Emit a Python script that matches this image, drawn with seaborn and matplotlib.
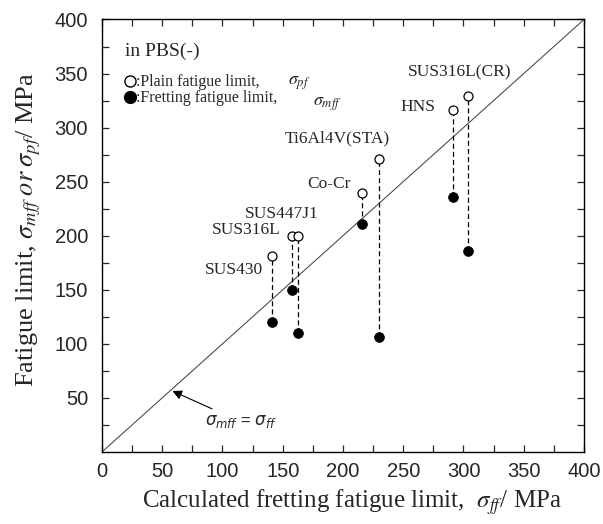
import matplotlib
matplotlib.use("Agg")
import matplotlib.pyplot as plt
from matplotlib.lines import Line2D
from matplotlib.ticker import MultipleLocator
import seaborn as sns
import pandas as pd

materials = ["SUS430", "SUS316L", "SUS447J1", "Co-Cr", "Ti6Al4V(STA)", "HNS", "SUS316L(CR)"]
calc_fretting = [141, 157.5, 162.5, 215.5, 229.5, 291, 303.5]
plain_limit = [181, 200, 200, 239.5, 271, 316, 329]
fretting_limit = [120, 150, 110, 211, 106.5, 236, 186]

# label anchor points (data units) and alignment
label_x = [134, 148, 119, 206, 239, 277, 254]
label_y = [168, 205, 220, 248, 290, 319, 351]
label_ha = ["right", "right", "left", "right", "right", "right", "left"]

axis_lim = [0, 400]

sns.set_style("ticks")
plt.rcParams["font.family"] = ["Liberation Serif", "DejaVu Serif"]
plt.rcParams["mathtext.fontset"] = "stix"

df = pd.DataFrame({"material": materials, "calc": calc_fretting,
                   "plain": plain_limit, "fret": fretting_limit})

fig = plt.figure(figsize=(6.03, 5.24), dpi=100)
ax = fig.add_axes([0.169, 0.1374, 0.7995, 0.8254])

ax.plot(axis_lim, axis_lim, color="#444444", lw=0.75, zorder=1)
ax.vlines(df["calc"], df["fret"], df["plain"], colors="black",
          linestyles=(0, (4, 2.5)), lw=0.9, zorder=2)
sns.scatterplot(data=df, x="calc", y="plain", ax=ax, marker="o", s=42,
                facecolor="white", edgecolor="black", linewidth=0.9, zorder=3)
sns.scatterplot(data=df, x="calc", y="fret", ax=ax, marker="o", s=50,
                color="black", edgecolor="black", linewidth=0.5, zorder=3)

for m, lx, ly, ha in zip(materials, label_x, label_y, label_ha):
    ax.text(lx, ly, m, ha=ha, va="center", fontsize=12.5)

ann = ax.annotate(r"$\sigma_{mff}$ = $\sigma_{ff}$", xy=(58.5, 56.4),
                  xytext=(85.5, 28), fontsize=12, va="center", ha="left",
                  fontfamily="Liberation Sans",
                  arrowprops=dict(arrowstyle="-|>", color="black", lw=0.8,
                                  mutation_scale=14, shrinkA=2, shrinkB=0))
ann.set_math_fontfamily("dejavusans")

handles = [Line2D([], [], ls="none", marker="o", ms=8, mfc="white", mec="black", mew=1),
           Line2D([], [], ls="none", marker="o", ms=8.5, mfc="black", mec="black")]
labels = [":Plain fatigue limit,", ":Fretting fatigue limit,"]
leg = ax.legend(handles, labels, loc="center left",
                bbox_to_anchor=(0.036, 0.836), frameon=False, fontsize=11.5,
                handlelength=0.6, handletextpad=0.05,
                labelspacing=0.0, borderaxespad=0)
ax.text(0.047, 0.926, "in PBS(-)", transform=ax.transAxes, fontsize=14,
        ha="left", va="center")
ax.text(0.41, 0.853, r"$\sigma_{pf}$", transform=ax.transAxes, fontsize=13,
        ha="center", va="center")
ax.text(0.468, 0.805, r"$\sigma_{mff}$", transform=ax.transAxes, fontsize=13,
        ha="center", va="center")

ax.set_xlim(axis_lim)
ax.set_ylim(axis_lim)
ax.xaxis.set_major_locator(MultipleLocator(50))
ax.xaxis.set_minor_locator(MultipleLocator(25))
ax.set_yticks([50, 100, 150, 200, 250, 300, 350, 400])
ax.set_yticks(list(range(25, 400, 25)), minor=True)
ax.tick_params(which="both", direction="in", top=True, right=True,
               length=5, width=0.9)
ax.tick_params(axis="x", which="major", pad=7)
ax.tick_params(axis="y", which="major", pad=10)
for lab in ax.get_xticklabels() + ax.get_yticklabels():
    lab.set_fontfamily("Liberation Sans")
    lab.set_fontsize(14.5)
for sp in ax.spines.values():
    sp.set_linewidth(1.0)
    sp.set_color("black")

ax.set_xlabel(r"Calculated fretting fatigue limit,  $\sigma_{ff}$/ MPa", fontsize=18, labelpad=5)
ax.set_ylabel(r"Fatigue limit, $\sigma_{mff}\;or\;\sigma_{pf}$/ MPa", fontsize=19, labelpad=8)
ax.xaxis.label.set_x(0.519)
ax.yaxis.label.set_y(0.514)

fig.savefig("out.png", dpi=100)
